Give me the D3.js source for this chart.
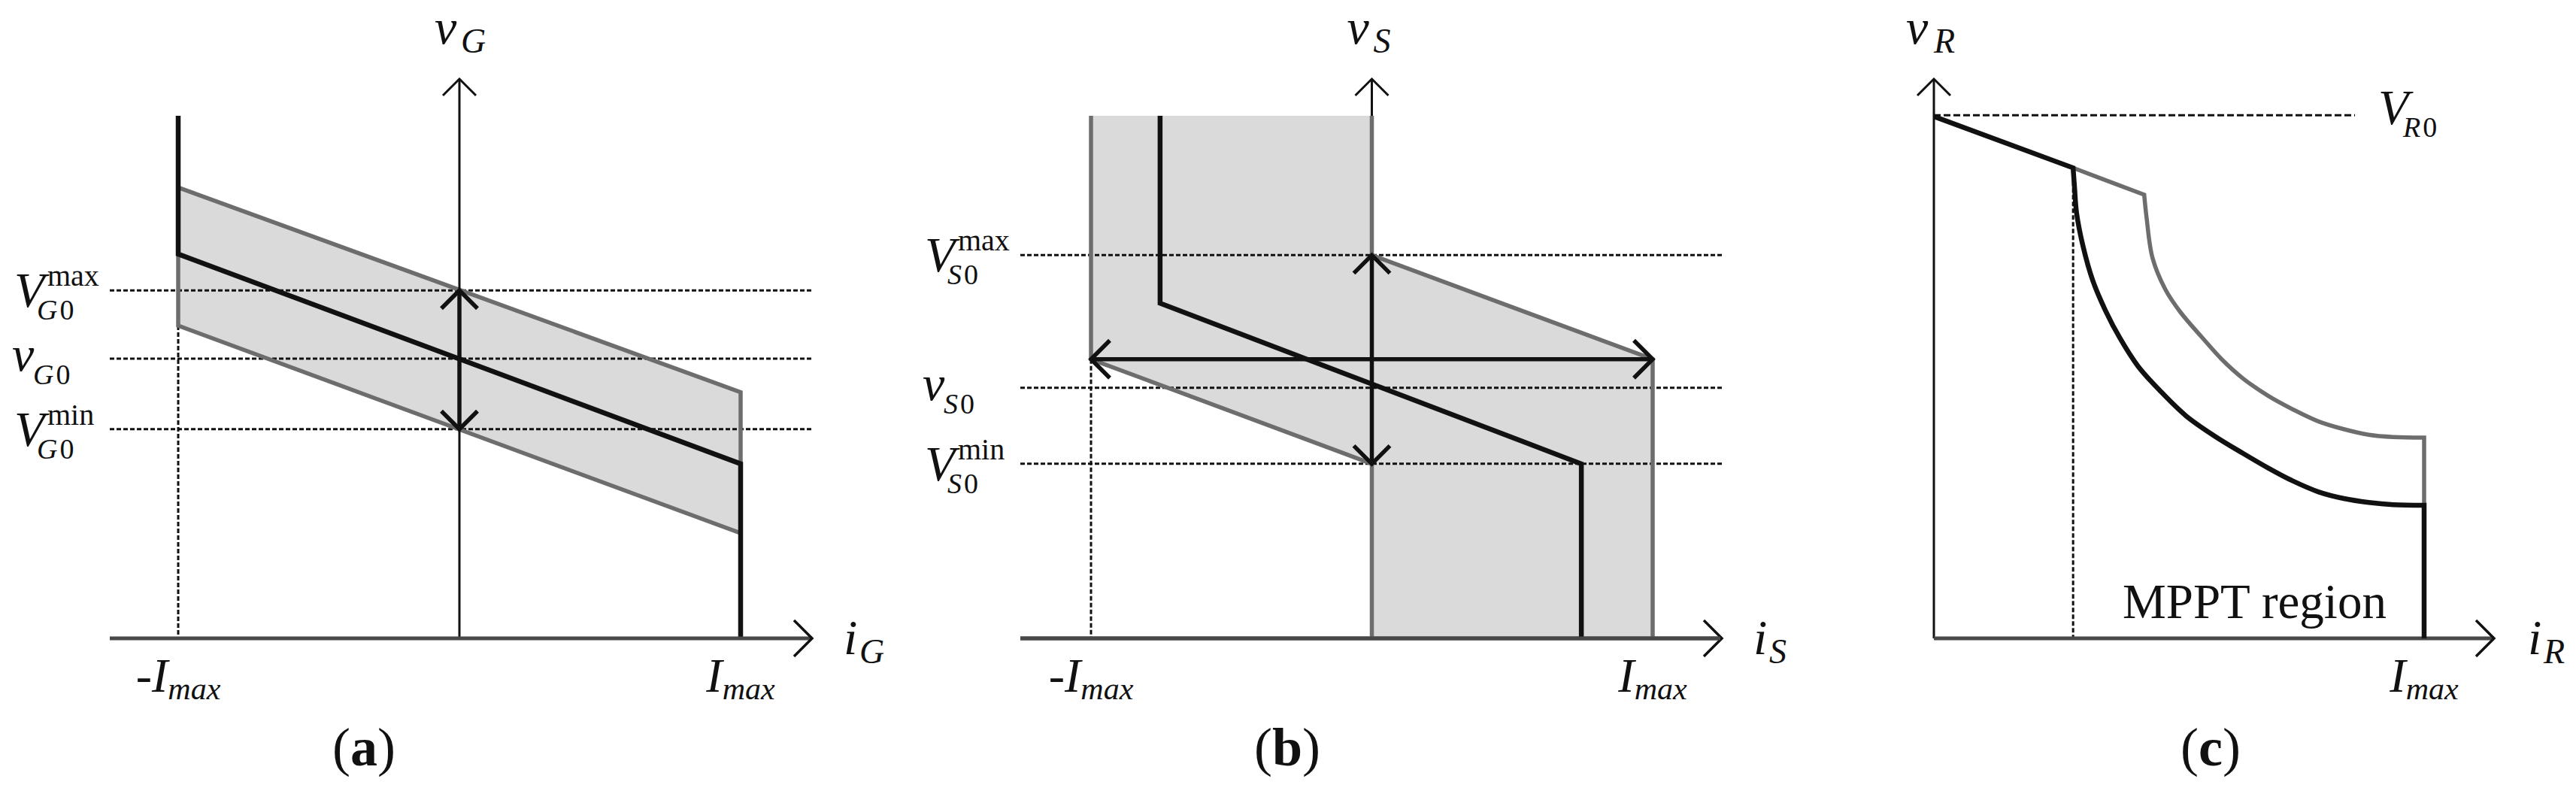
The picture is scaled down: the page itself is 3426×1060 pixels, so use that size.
<!DOCTYPE html>
<html><head><meta charset="utf-8">
<script src="https://cdn.jsdelivr.net/npm/d3@7"></script>
<style>html,body{margin:0;padding:0;background:#fff;} svg{display:block;}</style>
</head><body><svg id="chart" width="3426" height="1060"></svg>
<script>
// ---------------- data (normalized units: current i / Imax, voltage 0..10) ----------------
const voltDomain = [0, 10];
const panelNames = ["a", "b", "c"];
const currentTicksAB = [-1, 1];
const currentTicksC = [1];
const tickMain = ["-I", "I"];
const tickSub = "max";

// panel (a)
const curA = [-1, 1];
const bandUpperA = [8.06, 4.40];
const refLineA = [6.87, 3.12];
const bandLowerA = [5.59, 1.88];
const limitTopA = 9.34;
const levelValuesA = [6.22, 5.0, 3.74];
const levelMain = ["V", "v", "V"];
const levelSup = ["max", "", "min"];
const levelSubA = ["G", "G", "G"];

// panel (b)
const regionB = [[-1, 9.34], [0, 9.34], [0, 6.85], [1, 4.99], [1, 0], [0, 0], [0, 3.12], [-1, 4.99]];
const refPathB = [[-0.754, 9.34], [-0.754, 5.99], [0.746, 3.12], [0.746, 0]];
const levelValuesB = [6.85, 4.48, 3.12];
const levelSubB = ["S", "S", "S"];
const sweepB = 4.99;

// panel (c)
const VR0 = 9.35;
const droopC = [[0, 9.33], [0.284, 8.41]];
const grayDroopC = [[0.284, 8.41], [0.429, 7.93]];
const grayCurveC = [[0.429, 7.93], [0.434, 7.51], [0.446, 6.80], [0.472, 6.24], [0.503, 5.83], [0.549, 5.36],
  [0.587, 4.99], [0.630, 4.65], [0.683, 4.33], [0.733, 4.09], [0.784, 3.88], [0.836, 3.74], [0.887, 3.64],
  [0.937, 3.60], [1.0, 3.59]];
const grayEndC = [[1.0, 3.59], [1.0, 2.41]];
const blackCurveC = [[0.284, 8.41], [0.287, 8.05], [0.291, 7.61], [0.304, 7.02], [0.324, 6.40], [0.350, 5.86],
  [0.380, 5.36], [0.416, 4.87], [0.462, 4.42], [0.514, 3.98], [0.572, 3.62], [0.630, 3.31], [0.683, 3.04],
  [0.733, 2.81], [0.784, 2.62], [0.836, 2.50], [0.887, 2.43], [0.937, 2.39], [1.0, 2.38]];
const blackEndC = [[1.0, 2.38], [1.0, 0]];
const mpptStartC = 0.284;
const mpptLabel = "MPPT region";

// ---------------- layout ----------------
const FONT = "'Liberation Serif','Times New Roman',serif";
const INK = "#111";
const GRAY = "#6d6d6d";
const FILL = "#dadada";
const AXISGRAY = "#484848";
const WB = 6.5, WG = 5.5;

const svg = d3.select("#chart");
const y = d3.scaleLinear().domain(voltDomain).range([849, 105]);
const xa = d3.scaleLinear().domain([-1, 1]).range([237, 985]);
const xb = d3.scaleLinear().domain([-1, 1]).range([1451, 2198]);
const xc = d3.scaleLinear().domain([0, 1]).range([2572, 3224]);

const line = (xs) => d3.line().x(d => xs(d[0])).y(d => y(d[1]));

function chevron(g, x, yy, dir, s, color, w) {
  let p;
  if (dir === "up") p = `M${x - s},${yy + s} L${x},${yy} L${x + s},${yy + s}`;
  if (dir === "down") p = `M${x - s},${yy - s} L${x},${yy} L${x + s},${yy - s}`;
  if (dir === "right") p = `M${x - s},${yy - s} L${x},${yy} L${x - s},${yy + s}`;
  if (dir === "left") p = `M${x + s},${yy - s} L${x},${yy} L${x + s},${yy + s}`;
  g.append("path").attr("d", p).attr("fill", "none").attr("stroke", color).attr("stroke-width", w)
    .attr("stroke-linejoin", "miter").attr("stroke-linecap", "butt");
}

function seg(g, x1, y1, x2, y2, color, w, dash) {
  const l = g.append("line").attr("x1", x1).attr("y1", y1).attr("x2", x2).attr("y2", y2)
    .attr("stroke", color).attr("stroke-width", w);
  if (dash) l.attr("stroke-dasharray", dash);
  return l;
}

function text(g, x, yy, s, size, italic, anchor, weight) {
  return g.append("text").attr("x", x).attr("y", yy).attr("font-family", FONT).attr("font-size", size)
    .attr("font-style", italic ? "italic" : "normal").attr("font-weight", weight || "normal")
    .attr("text-anchor", anchor || "start").attr("fill", INK).text(s);
}

// subscript like "G0": italic letter + upright zero
function subZero(g, x, yy, letter, size) {
  const t = g.append("text").attr("x", x).attr("y", yy).attr("font-family", FONT).attr("font-size", size)
    .attr("fill", INK);
  t.append("tspan").attr("font-style", "italic").text(letter);
  t.append("tspan").attr("dx", 3).text("0");
  return t;
}

function axes(g, xs, x0, xStart, xEnd) {
  seg(g, xs(x0), y(0), xs(x0), y(10), INK, 3);
  chevron(g, xs(x0), y(10), "up", 22, INK, 3);
  seg(g, xStart, y(0), xEnd, y(0), AXISGRAY, 5);
  chevron(g, xEnd, y(0), "right", 24, INK, 3.5);
}

function axisLabels(g, xs, x0, xEnd, vSub, iSub) {
  const ax = xs(x0);
  text(g, ax - 33, 58, "v", 66, true);
  text(g, ax + 2, 70, vSub, 46, true);
  text(g, xEnd + 42, 870, "i", 66, true);
  text(g, xEnd + 63, 882, iSub, 46, true);
}

function levelLabels(g, anchorX, values, subs) {
  values.forEach((v, k) => {
    const yy = y(v);
    if (levelMain[k] === "V") {
      text(g, anchorX - 127, yy + 22, "V", 66, true);
      text(g, anchorX - 83, yy - 6, levelSup[k], 40, false);
      subZero(g, anchorX - 97, yy + 39, subs[k], 38);
    } else {
      text(g, anchorX - 130, yy + 16, "v", 66, true);
      subZero(g, anchorX - 102, yy + 34, subs[k], 38);
    }
  });
}

function tickLabels(g, xs, ticks, names) {
  ticks.forEach((t, k) => {
    const tx = g.append("text").attr("x", xs(t)).attr("y", 920).attr("font-family", FONT)
      .attr("font-size", 64).attr("font-style", "italic").attr("text-anchor", "middle").attr("fill", INK);
    tx.append("tspan").text(names[k]);
    tx.append("tspan").attr("font-size", 42).attr("dy", 10).text(tickSub);
  });
}

function panelLabel(g, cx, letter) {
  const t = g.append("text").attr("x", cx).attr("y", 1018).attr("font-family", FONT).attr("font-size", 72)
    .attr("text-anchor", "middle").attr("fill", INK);
  t.append("tspan").text("(");
  t.append("tspan").attr("font-weight", "bold").text(letter);
  t.append("tspan").text(")");
}

// ================= panel (a) =================
{
  const g = svg.append("g");
  const band = [[curA[0], bandUpperA[0]], [curA[1], bandUpperA[1]], [curA[1], bandLowerA[1]], [curA[0], bandLowerA[0]]];
  g.append("path").attr("d", line(xa)(band) + "Z").attr("fill", FILL).attr("stroke", "none");
  const xStart = 146, xEnd = 1080;
  levelValuesA.forEach(v => seg(g, xStart, y(v), xEnd, y(v), INK, 3, "6,3"));
  seg(g, xa(-1), y(bandLowerA[0]), xa(-1), y(0), INK, 3, "6,3");
  g.append("path").attr("d", line(xa)(band) + "Z").attr("fill", "none").attr("stroke", GRAY).attr("stroke-width", WG);
  const ref = [[curA[0], limitTopA], [curA[0], refLineA[0]], [curA[1], refLineA[1]], [curA[1], 0]];
  g.append("path").attr("d", line(xa)(ref)).attr("fill", "none").attr("stroke", INK).attr("stroke-width", WB);
  axes(g, xa, 0, xStart, xEnd);
  seg(g, xa(0), y(levelValuesA[0]), xa(0), y(levelValuesA[2]), INK, 5.5);
  chevron(g, xa(0), y(levelValuesA[0]), "up", 24, INK, 5.5);
  chevron(g, xa(0), y(levelValuesA[2]), "down", 24, INK, 5.5);
  axisLabels(g, xa, 0, xEnd, "G", "G");
  levelLabels(g, xStart, levelValuesA, levelSubA);
  tickLabels(g, xa, currentTicksAB, tickMain);
  panelLabel(g, 484, panelNames[0]);
}

// ================= panel (b) =================
{
  const g = svg.append("g");
  g.append("path").attr("d", line(xb)(regionB) + "Z").attr("fill", FILL).attr("stroke", "none");
  const xStart = 1357, xEnd = 2290;
  levelValuesB.forEach(v => seg(g, xStart, y(v), xEnd, y(v), INK, 3, "6,3"));
  seg(g, xb(-1), y(sweepB), xb(-1), y(0), INK, 3, "6,3");
  axes(g, xb, 0, xStart, xEnd);
  const outline1 = [regionB[0], regionB[7], regionB[6], regionB[5]];
  const outline2 = [regionB[1], regionB[2], regionB[3], regionB[4]];
  [outline1, outline2].forEach(p => g.append("path").attr("d", line(xb)(p)).attr("fill", "none")
    .attr("stroke", GRAY).attr("stroke-width", WG));
  g.append("path").attr("d", line(xb)(refPathB)).attr("fill", "none").attr("stroke", INK).attr("stroke-width", WB);
  seg(g, xb(0), y(levelValuesB[0]), xb(0), y(levelValuesB[2]), INK, 5.5);
  chevron(g, xb(0), y(levelValuesB[0]), "up", 24, INK, 5.5);
  chevron(g, xb(0), y(levelValuesB[2]), "down", 24, INK, 5.5);
  seg(g, xb(-1), y(sweepB), xb(1), y(sweepB), INK, 5.5);
  chevron(g, xb(-1), y(sweepB), "left", 25, INK, 5.5);
  chevron(g, xb(1), y(sweepB), "right", 25, INK, 5.5);
  seg(g, xStart, y(0), xEnd - 2, y(0), AXISGRAY, 5);
  axisLabels(g, xb, 0, xEnd, "S", "S");
  levelLabels(g, xStart, levelValuesB, levelSubB);
  tickLabels(g, xb, currentTicksAB, tickMain);
  panelLabel(g, 1712, panelNames[1]);
}

// ================= panel (c) =================
{
  const g = svg.append("g");
  const xEnd = 3317;
  seg(g, xc(0), y(VR0), 3132, y(VR0), INK, 3, "9,4");
  seg(g, xc(mpptStartC), y(droopC[1][1]), xc(mpptStartC), y(0), INK, 3, "6,3");
  axes(g, xc, 0, xc(0), xEnd);
  const smooth = d3.line().x(d => xc(d[0])).y(d => y(d[1])).curve(d3.curveCatmullRom.alpha(0.5));
  const straight = line(xc);
  const join = (a, b, c) => straight(a) + smooth(b).replace(/^M/, "L") + straight(c).replace(/^M/, "L");
  g.append("path").attr("d", join(grayDroopC, grayCurveC, grayEndC))
    .attr("fill", "none").attr("stroke", GRAY).attr("stroke-width", WG);
  g.append("path").attr("d", join(droopC, blackCurveC, blackEndC))
    .attr("fill", "none").attr("stroke", INK).attr("stroke-width", WB);
  text(g, xc(0) - 37, 58, "v", 66, true);
  text(g, xc(0), 70, "R", 46, true);
  text(g, xEnd + 45, 870, "i", 66, true);
  text(g, xEnd + 66, 882, "R", 46, true);
  text(g, 3163, 165, "V", 66, true);
  subZero(g, 3196, 182, "R", 38);
  text(g, 2823, 822, mpptLabel, 65, false);
  tickLabels(g, xc, currentTicksC, [tickMain[1]]);
  panelLabel(g, 2940, panelNames[2]);
}
</script></body></html>
